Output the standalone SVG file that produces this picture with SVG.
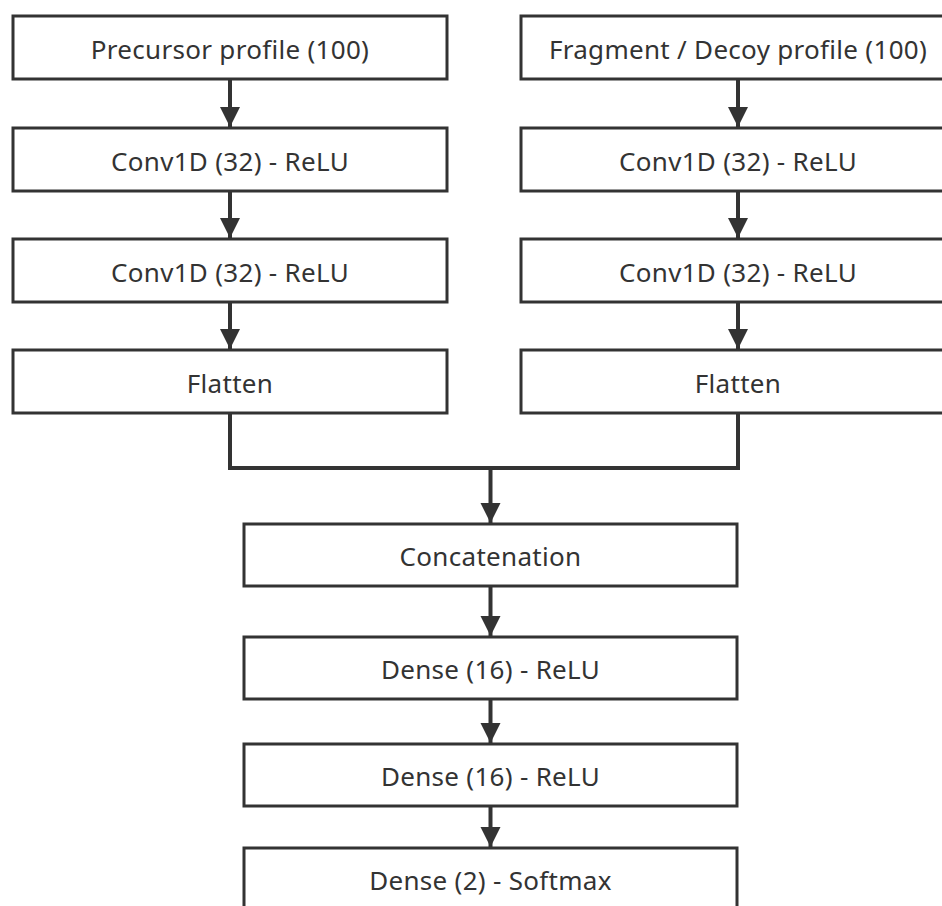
<svg xmlns="http://www.w3.org/2000/svg" width="942" height="906" viewBox="0 0 942 906">
<style>
.box{fill:#fff;stroke:#333;stroke-width:3}
.lbl{font-family:"Noto Sans","Open Sans",sans-serif;font-size:26px;letter-spacing:0.3px;fill:#333;text-anchor:middle}
.con{fill:none;stroke:#333;stroke-width:4}
</style>
<defs>
<marker id="ah" markerUnits="userSpaceOnUse" markerWidth="22" markerHeight="24" refX="20" refY="11" orient="auto" viewBox="0 0 22 24">
<path d="M0,1 L20,11 L0,21 Z" fill="#333"/>
</marker>
</defs>
<rect width="942" height="906" fill="#fff"/>
<g id="connectors">
<path class="con" d="M230,79 V127" marker-end="url(#ah)"/>
<path class="con" d="M230,191 V238" marker-end="url(#ah)"/>
<path class="con" d="M230,302 V349" marker-end="url(#ah)"/>
<path class="con" d="M738,79 V127" marker-end="url(#ah)"/>
<path class="con" d="M738,191 V238" marker-end="url(#ah)"/>
<path class="con" d="M738,302 V349" marker-end="url(#ah)"/>
<path class="con" d="M230,413 V468 H738 V413"/>
<path class="con" d="M490.5,468 V523" marker-end="url(#ah)"/>
<path class="con" d="M490.5,586 V636" marker-end="url(#ah)"/>
<path class="con" d="M490.5,699 V743" marker-end="url(#ah)"/>
<path class="con" d="M490.5,806 V847" marker-end="url(#ah)"/>
</g>
<g id="n-precursor"><rect class="box" x="13" y="16" width="434" height="63"/><text class="lbl" x="230" y="58.5">Precursor profile (100)</text></g>
<g id="n-conv-l1"><rect class="box" x="13" y="128" width="434" height="63"/><text class="lbl" x="230" y="170.5">Conv1D (32) - ReLU</text></g>
<g id="n-conv-l2"><rect class="box" x="13" y="239" width="434" height="63"/><text class="lbl" x="230" y="281.5">Conv1D (32) - ReLU</text></g>
<g id="n-flatten-l"><rect class="box" x="13" y="350" width="434" height="63"/><text class="lbl" x="230" y="392.5">Flatten</text></g>
<g id="n-fragment"><rect class="box" x="521" y="16" width="434" height="63"/><text class="lbl" x="738" y="58.5">Fragment / Decoy profile (100)</text></g>
<g id="n-conv-r1"><rect class="box" x="521" y="128" width="434" height="63"/><text class="lbl" x="738" y="170.5">Conv1D (32) - ReLU</text></g>
<g id="n-conv-r2"><rect class="box" x="521" y="239" width="434" height="63"/><text class="lbl" x="738" y="281.5">Conv1D (32) - ReLU</text></g>
<g id="n-flatten-r"><rect class="box" x="521" y="350" width="434" height="63"/><text class="lbl" x="738" y="392.5">Flatten</text></g>
<g id="n-concat"><rect class="box" x="244" y="524" width="493" height="62"/><text class="lbl" x="490.5" y="566">Concatenation</text></g>
<g id="n-dense1"><rect class="box" x="244" y="637" width="493" height="62"/><text class="lbl" x="490.5" y="679">Dense (16) - ReLU</text></g>
<g id="n-dense2"><rect class="box" x="244" y="744" width="493" height="62"/><text class="lbl" x="490.5" y="786">Dense (16) - ReLU</text></g>
<g id="n-dense3"><rect class="box" x="244" y="848" width="493" height="62"/><text class="lbl" x="490.5" y="890">Dense (2) - Softmax</text></g>
</svg>
